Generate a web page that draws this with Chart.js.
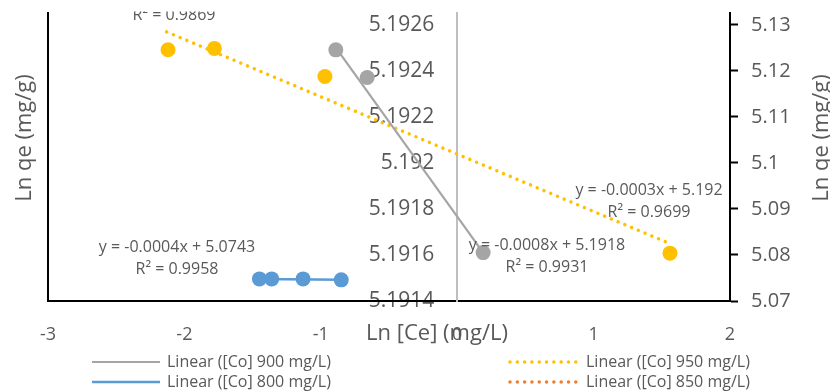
<!DOCTYPE html>
<html>
<head>
<meta charset="utf-8">
<script src="https://cdn.jsdelivr.net/npm/chart.js@4/dist/chart.umd.min.js"></script>
<style>
  html, body { margin: 0; padding: 0; background: #fff; }
  #wrap { width: 830px; height: 392px; }
</style>
</head>
<body>
<div id="wrap"><canvas id="chart"></canvas></div>
<script>
// Ln [Ce] vs Ln qe
const x900 = [-0.89, -0.66, 0.19];
const y900 = [5.19249, 5.19237, 5.19161];
const trend900X = [-0.89, 0.19];
const trend900Y = [5.19250, 5.19161];

const x950 = [-2.12, -1.78, -0.97, 1.56];
const y950 = [5.1246, 5.1249, 5.1188, 5.0804];
const trend950X = [-2.13, 1.55];
const trend950Y = [5.1285, 5.0826];

const x800 = [-1.45, -1.36, -1.13, -0.85];
const y800 = [5.0748, 5.0748, 5.0748, 5.0746];
const trend800X = [-1.45, -0.85];
const trend800Y = [5.0748, 5.0746];

const xTicks = [-3, -2, -1, 0, 1, 2];
const rightTicks = [5.07, 5.08, 5.09, 5.1, 5.11, 5.12, 5.13];
const midTicks = [5.1914, 5.1916, 5.1918, 5.192, 5.1922, 5.1924, 5.1926];

const eqLabels = [
    { lines: ['y = -0.0004x + 5.0743', 'R² = 0.9958'], x: 177, y: 247 },
    { lines: ['y = -0.0008x + 5.1918', 'R² = 0.9931'], x: 547, y: 245 },
    { lines: ['y = -0.0003x + 5.192', 'R² = 0.9699'], x: 649, y: 190 }
];

const FONT = "'Open Sans', sans-serif";
const TEXT = '#595959';
const GRAY = '#a5a5a5', YELLOW = '#ffc000', BLUE = '#5b9bd5', ORANGE = '#ed7d31';
const DOTS = [0.01, 7.3];

function pts(xs, ys) { return xs.map((x, i) => ({ x: x, y: ys[i] })); }
function fixTicks(list) { return scale => { scale.ticks = list.map(v => ({ value: v })); }; }
function noPad(s) { s.paddingTop = 0; s.paddingBottom = 0; s.paddingLeft = 0; s.paddingRight = 0; }

// labels of the axis that crosses at x = 0 (drawn under the marks and axis lines)
const midAxisPlugin = {
    id: 'midAxis',
    beforeDraw(chart) {
        const ctx = chart.ctx, ys = chart.scales.y3, xs = chart.scales.x;
        const right = xs.getPixelForValue(0) - 23;
        ctx.save();
        ctx.fillStyle = TEXT;
        ctx.font = '21px ' + FONT;
        ctx.textAlign = 'right';
        ctx.textBaseline = 'middle';
        midTicks.forEach(v => ctx.fillText(String(Math.round(v * 10000) / 10000), right, ys.getPixelForValue(v)));
        ctx.restore();
    }
};

const textPlugin = {
    id: 'texts',
    afterDraw(chart) {
        const ctx = chart.ctx;
        ctx.save();
        ctx.fillStyle = TEXT;
        ctx.textAlign = 'center';
        ctx.textBaseline = 'middle';

        // trendline equations
        ctx.font = '16px ' + FONT;
        eqLabels.forEach(l => {
            l.lines.forEach((s, i) => ctx.fillText(s, l.x, l.y + i * 22));
        });
        // the one whose top is cut off by the title box
        ctx.save();
        ctx.beginPath();
        ctx.rect(0, 11.5, 830, 40);
        ctx.clip();
        ctx.fillText('R² = 0.9869', 174, 15);
        ctx.restore();

        // axis titles
        ctx.font = '22px ' + FONT;
        ctx.fillText('Ln [Ce] (mg/L)', 437, 334);
        ctx.save();
        ctx.translate(25, 138);
        ctx.rotate(-Math.PI / 2);
        ctx.fillText('Ln qe (mg/g)', 0, 0);
        ctx.restore();
        ctx.save();
        ctx.translate(822, 138);
        ctx.rotate(-Math.PI / 2);
        ctx.fillText('Ln qe (mg/g)', 0, 0);
        ctx.restore();

        // legend, two columns
        ctx.font = '16px ' + FONT;
        ctx.textAlign = 'left';
        const items = chart.data.datasets.filter(d => d.legend);
        items.forEach((d, i) => {
            const col = Math.floor(i / 2), row = i % 2;
            const x0 = col ? 510 : 92, y0 = row ? 382 : 362;
            ctx.save();
            ctx.strokeStyle = d.borderColor;
            ctx.lineWidth = d.borderWidth;
            ctx.lineCap = d.borderCapStyle || 'butt';
            ctx.setLineDash(d.borderDash || []);
            ctx.beginPath();
            ctx.moveTo(x0, y0);
            ctx.lineTo(x0 + 68, y0);
            ctx.stroke();
            ctx.restore();
            ctx.fillText(d.label, x0 + (col ? 76 : 75), y0);
        });
        ctx.restore();
    }
};

new Chart(document.getElementById('chart'), {
    type: 'scatter',
    data: {
        datasets: [
            { label: '[Co] 900 mg/L', data: pts(x900, y900), yAxisID: 'y3', backgroundColor: GRAY, borderWidth: 0, pointRadius: 7.5, order: 1 },
            { label: '[Co] 950 mg/L', data: pts(x950, y950), yAxisID: 'y', backgroundColor: YELLOW, borderWidth: 0, pointRadius: 7.5, order: 1 },
            { label: '[Co] 800 mg/L', data: pts(x800, y800), yAxisID: 'y', backgroundColor: BLUE, borderWidth: 0, pointRadius: 7.5, order: 1 },
            { label: 'Linear ([Co] 900 mg/L)', legend: true, data: pts(trend900X, trend900Y), yAxisID: 'y3', showLine: true, pointRadius: 0, borderColor: GRAY, borderWidth: 2.2, order: 2 },
            { label: 'Linear ([Co] 800 mg/L)', legend: true, data: pts(trend800X, trend800Y), yAxisID: 'y', showLine: true, pointRadius: 0, borderColor: BLUE, borderWidth: 2.5, order: 2 },
            { label: 'Linear ([Co] 950 mg/L)', legend: true, data: pts(trend950X, trend950Y), yAxisID: 'y', showLine: true, pointRadius: 0, borderColor: YELLOW, borderWidth: 3.5, borderDash: DOTS, borderCapStyle: 'round', order: 2 },
            { label: 'Linear ([Co] 850 mg/L)', legend: true, data: [], yAxisID: 'y', showLine: true, pointRadius: 0, borderColor: ORANGE, borderWidth: 3.5, borderDash: DOTS, borderCapStyle: 'round', order: 2 }
        ]
    },
    options: {
        responsive: true,
        maintainAspectRatio: false,
        animation: false,
        layout: { padding: { top: 13, left: 0, right: 0, bottom: 0 } },
        plugins: { legend: { display: false }, tooltip: { enabled: false } },
        scales: {
            x: {
                type: 'linear', position: 'bottom', min: -3, max: 2,
                afterBuildTicks: fixTicks(xTicks),
                afterFit: s => { s.height = 91; noPad(s); },
                grid: { drawOnChartArea: false, drawTicks: false },
                border: { color: '#000', width: 2 },
                ticks: { color: TEXT, font: { family: FONT, size: 18 }, padding: 23 }
            },
            y: {
                position: 'left', min: 5.07, max: 5.1326,
                afterFit: s => { s.width = 48; noPad(s); },
                grid: { drawOnChartArea: false, drawTicks: false },
                border: { color: '#000', width: 2 },
                ticks: { display: false }
            },
            y2: {
                position: 'right', min: 5.07, max: 5.1326,
                afterBuildTicks: fixTicks(rightTicks),
                afterFit: s => { s.width = 100; noPad(s); },
                grid: { drawOnChartArea: false, tickLength: 8, tickColor: '#000', tickWidth: 2 },
                border: { color: '#000', width: 2 },
                ticks: { color: TEXT, font: { family: FONT, size: 20 }, padding: 13,
                    callback: v => String(Math.round(v * 100) / 100) }
            },
            y3: {
                position: { x: 0 }, min: 5.1914, max: 5.19265,
                afterBuildTicks: fixTicks(midTicks),
                afterFit: s => { noPad(s); },
                grid: { drawOnChartArea: false, drawTicks: false },
                border: { color: '#bfbfbf', width: 2 },
                ticks: { display: false }
            }
        }
    },
    plugins: [midAxisPlugin, textPlugin]
});
</script>
</body>
</html>
